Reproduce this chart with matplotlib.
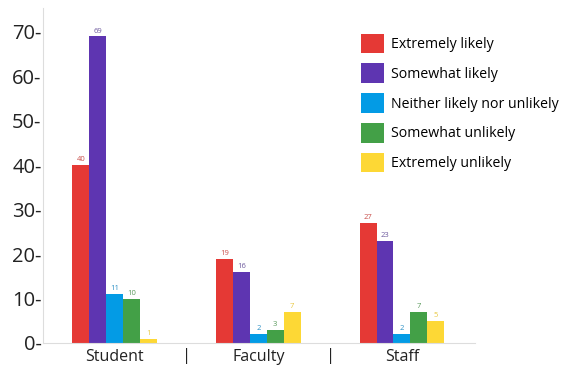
import numpy as np
import matplotlib.pyplot as plt

plt.rcParams['font.family'] = ['Open Sans', 'DejaVu Sans']

groups = ['Student', 'Faculty', 'Staff']
responses = ['Extremely likely', 'Somewhat likely', 'Neither likely nor unlikely',
             'Somewhat unlikely', 'Extremely unlikely']
extremely_likely = [40, 19, 27]
somewhat_likely = [69, 16, 23]
neither = [11, 2, 2]
somewhat_unlikely = [10, 3, 7]
extremely_unlikely = [1, 7, 5]
yticks = [0, 10, 20, 30, 40, 50, 60, 70]

series = [extremely_likely, somewhat_likely, neither, somewhat_unlikely, extremely_unlikely]
colors = ['#E53935', '#5E35B1', '#039BE5', '#43A047', '#FDD835']
label_colors = ['#C9504C', '#6E5A9E', '#2A8FC4', '#5A9A5C', '#E8C840']

fig = plt.figure(figsize=(5.62, 3.71), dpi=100)
ax = fig.add_axes([0.0765, 0.0755, 0.769, 0.903])

x = np.arange(len(groups))
width = 0.118
handles = []
for i, vals in enumerate(series):
    pos = x + (i - 2) * width
    b = ax.bar(pos, vals, width, color=colors[i], label=responses[i])
    handles.append(b)
    for px, v in zip(pos, vals):
        ax.text(px, v + 0.4, str(v), ha='center', va='bottom',
                fontsize=5.5, color=label_colors[i])

ax.set_xlim(-0.5, 2.51)
ax.set_ylim(0, 75.4)

# y labels carry their own dash instead of tick marks
ax.set_yticks(yticks)
ax.set_yticklabels([f'{t}-' for t in yticks], fontsize=14.5, color='#222222')
ax.set_xticks(x)
ax.set_xticklabels(groups, fontsize=11.5, color='#222222')
ax.tick_params(length=0, pad=4)
ax.tick_params(axis='y', pad=1)

# separators between the groups
for m in (x[:-1] + 0.5):
    ax.text(m, -2.9, '|', ha='center', va='center', fontsize=12, color='#222222',
            transform=ax.transData, clip_on=False)

for s in ('top', 'right'):
    ax.spines[s].set_visible(False)
ax.spines['left'].set_color('#DDDDDD')
ax.spines['bottom'].set_color('#DDDDDD')

leg = ax.legend(handles=handles, loc='upper left', bbox_to_anchor=(0.712, 0.953),
                frameon=False, fontsize=10.2, handlelength=1.65, handleheight=1.75,
                labelspacing=0.72, handletextpad=0.5, borderaxespad=0.3)

fig.savefig('out.png', dpi=100)
